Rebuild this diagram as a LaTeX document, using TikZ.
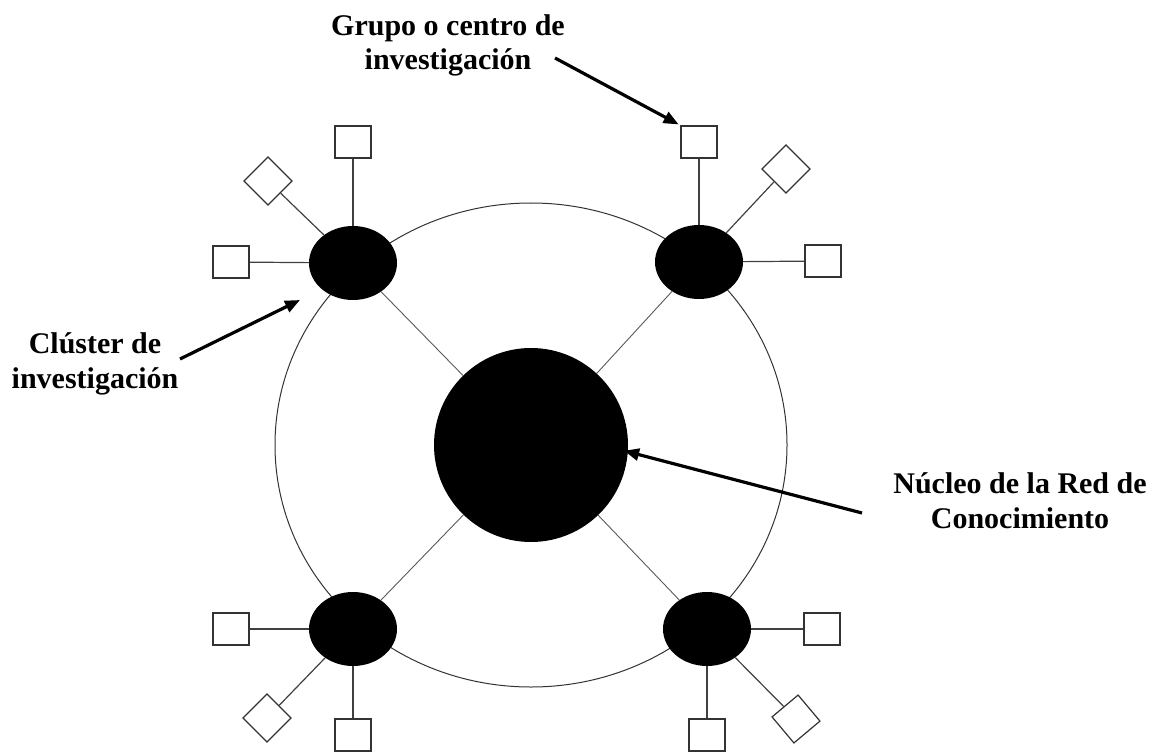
\documentclass[tikz,border=0pt]{standalone}
\usepackage{fontspec}
\setmainfont{Liberation Serif}
\usetikzlibrary{shapes.geometric,arrows.meta}

\begin{document}
\begin{tikzpicture}[x=1pt,y=-1pt,
  ringstyle/.style={ellipse,draw=black!80,line width=1pt,minimum width=512pt,minimum height=484pt,inner sep=0pt},
  corestyle/.style={circle,fill=black,draw=none,minimum size=194pt,inner sep=0pt},
  blob/.style={ellipse,fill=black,draw=none,minimum width=88pt,minimum height=74pt,inner sep=0pt},
  sq/.style={rectangle,draw=black!80,line width=1.2pt,fill=white,minimum width=36pt,minimum height=32pt,inner sep=0pt},
  dia/.style={sq,minimum width=34pt,minimum height=34pt},
  link/.style={draw=black!75,line width=1.2pt},
  spoke/.style={draw=black!65,line width=0.9pt},
  pointer/.style={line width=3.2pt,-{Triangle[length=15pt,width=12pt]}},
  lbl/.style={font=\bfseries\fontsize{30}{34.5}\selectfont,align=center,anchor=base,inner sep=0pt}
]
\useasboundingbox (0,0) rectangle (1164,754);

% outer ring of the network
\node[ringstyle] (ring) at (531,445) {};

% core and the four clusters
\node[corestyle] (core) at (531,445) {};
\node[blob] (tl) at (353,263) {};
\node[blob] (tr) at (699,262) {};
\node[blob] (bl) at (353,629) {};
\node[blob] (br) at (707,629) {};

% spokes from the core to each cluster
\foreach \c in {tl,tr,bl,br} \draw[spoke] (core) -- (\c);

% groups around each cluster
\node[sq] (tlT) at (353,142) {};
\node[sq] (tlL) at (231,262) {};
\node[dia,rotate=45] (tlD) at (268,181) {};

\node[sq] (trT) at (699,142) {};
\node[sq] (trR) at (823,261) {};
\node[dia,rotate=45] (trD) at (786,169) {};

\node[sq] (blL) at (231,629) {};
\node[sq] (blB) at (353,735) {};
\node[dia,rotate=45] (blD) at (267,718) {};

\node[sq] (brR) at (822,629) {};
\node[sq] (brB) at (707,735) {};
\node[dia,rotate=40] (brD) at (796,719) {};

\foreach \c/\g in {tl/tlT,tl/tlL,tl/tlD,tr/trT,tr/trR,tr/trD,bl/blL,bl/blB,bl/blD,br/brR,br/brB,br/brD}
  \draw[link] (\c) -- (\g);

% labels (anchored at the baseline of the last line)
\node[lbl] (grupo) at (448,70) {Grupo o centro de\\investigación};
\node[lbl] (cluster) at (95,388) {Clúster de\\investigación};
\node[lbl] (nucleo) at (1020,528) {Núcleo de la Red de\\Conocimiento};

% pointers
\coordinate (grupoTail) at (555,58);
\coordinate (clusterTail) at (180,359);
\coordinate (clusterTip) at (300,300);
\coordinate (nucleoTail) at (862,513);
\draw[pointer,shorten >=2pt] (grupoTail) -- (trT.north west);
\draw[pointer] (clusterTail) -- (clusterTip);
\draw[pointer,shorten >=-4pt] (nucleoTail) -- (core.-4);
\end{tikzpicture}
\end{document}
